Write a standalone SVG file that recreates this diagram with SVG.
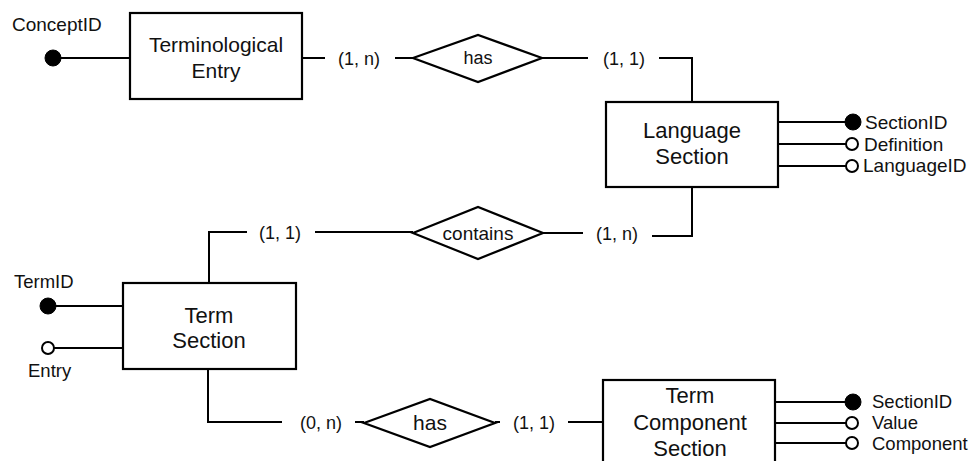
<svg xmlns="http://www.w3.org/2000/svg" width="973" height="461" viewBox="0 0 973 461">
<style>
text{font-family:"Liberation Sans",Arial,Helvetica,sans-serif;fill:#111}
.ent{fill:#fff;stroke:#000;stroke-width:2.2}
.rel{fill:#fff;stroke:#000;stroke-width:2.2}
.ln{fill:none;stroke:#000;stroke-width:2}
.key{fill:#000;stroke:#000;stroke-width:1}
.opt{fill:#fff;stroke:#000;stroke-width:2}
.en{font-size:21px;text-anchor:middle}
.at{font-size:18.5px}
.cd{font-size:18px;text-anchor:middle}
</style>
<g id="connectors">
<polyline class="ln" points="302,58 325,58"/>
<polyline class="ln" points="395,58 413,58"/>
<polyline class="ln" points="542,58 588,58"/>
<polyline class="ln" points="659,58 692,58 692,102"/>
<polyline class="ln" points="692,187 692,236 652,236"/>
<polyline class="ln" points="543,233 583,233"/>
<polyline class="ln" points="209,283 209,232 247,232"/>
<polyline class="ln" points="315,232 413,232"/>
<polyline class="ln" points="208,369 208,422 282,422"/>
<polyline class="ln" points="355,422 364,422"/>
<polyline class="ln" points="495,422 500,422"/>
<polyline class="ln" points="568,422 603,422"/>
<text class="cd" x="359" y="65">(1, n)</text>
<text class="cd" x="624" y="65">(1, 1)</text>
<text class="cd" x="280" y="239">(1, 1)</text>
<text class="cd" x="617" y="240">(1, n)</text>
<text class="cd" x="321" y="429">(0, n)</text>
<text class="cd" x="534" y="429">(1, 1)</text>
</g>
<g id="terminological-entry">
<line class="ln" x1="53" y1="58" x2="130" y2="58"/>
<circle class="key" cx="53" cy="58" r="8"/>
<text x="12" y="31" style="font-size:19px">ConceptID</text>
<rect class="ent" x="130" y="13" width="172" height="86"/>
<text class="en" x="216" y="52">Terminological</text>
<text class="en" x="216" y="78">Entry</text>
</g>
<g id="has-top">
<polygon class="rel" points="413,58 478,35 542,58 478,82"/>
<text x="478" y="64" style="font-size:18px;text-anchor:middle">has</text>
</g>
<g id="language-section">
<rect class="ent" x="606" y="102" width="172" height="85"/>
<text class="en" x="692" y="138" style="font-size:22px">Language</text>
<text class="en" x="692" y="164" style="font-size:22px">Section</text>
<line class="ln" x1="778" y1="122" x2="853" y2="122"/>
<line class="ln" x1="778" y1="144" x2="846" y2="144"/>
<line class="ln" x1="778" y1="166" x2="846" y2="166"/>
<circle class="key" cx="853" cy="122" r="8"/>
<circle class="opt" cx="852" cy="144" r="6"/>
<circle class="opt" cx="852" cy="166" r="6"/>
<text class="at" x="865" y="129" style="font-size:19px">SectionID</text>
<text class="at" x="864" y="151" style="font-size:19px">Definition</text>
<text class="at" x="863" y="172" style="font-size:19px">LanguageID</text>
</g>
<g id="contains">
<polygon class="rel" points="413,233 478,207 543,233 478,259"/>
<text x="478" y="240" style="font-size:19px;text-anchor:middle">contains</text>
</g>
<g id="term-section">
<line class="ln" x1="48" y1="306" x2="123" y2="306"/>
<line class="ln" x1="54" y1="348" x2="123" y2="348"/>
<circle class="key" cx="48" cy="306" r="8"/>
<circle class="opt" cx="48" cy="348" r="6"/>
<text class="at" x="14" y="288">TermID</text>
<text class="at" x="28" y="377">Entry</text>
<rect class="ent" x="123" y="283" width="173" height="86"/>
<text class="en" x="209" y="323" style="font-size:22px">Term</text>
<text class="en" x="209" y="348" style="font-size:22px">Section</text>
</g>
<g id="has-bottom">
<polygon class="rel" points="364,423 430,399 495,423 430,447"/>
<text x="430" y="430" style="font-size:21px;text-anchor:middle">has</text>
</g>
<g id="term-component-section">
<rect class="ent" x="603" y="380" width="172" height="95"/>
<text class="en" x="690" y="403" style="font-size:22px">Term</text>
<text class="en" x="690" y="430" style="font-size:22px">Component</text>
<text class="en" x="690" y="456" style="font-size:22px">Section</text>
<line class="ln" x1="775" y1="402" x2="853" y2="402"/>
<line class="ln" x1="775" y1="423" x2="846" y2="423"/>
<line class="ln" x1="775" y1="443" x2="846" y2="443"/>
<circle class="key" cx="853" cy="402" r="8"/>
<circle class="opt" cx="852" cy="423" r="6"/>
<circle class="opt" cx="852" cy="443" r="6"/>
<text class="at" x="872" y="408">SectionID</text>
<text class="at" x="872" y="429">Value</text>
<text class="at" x="872" y="450">Component</text>
</g>
</svg>
